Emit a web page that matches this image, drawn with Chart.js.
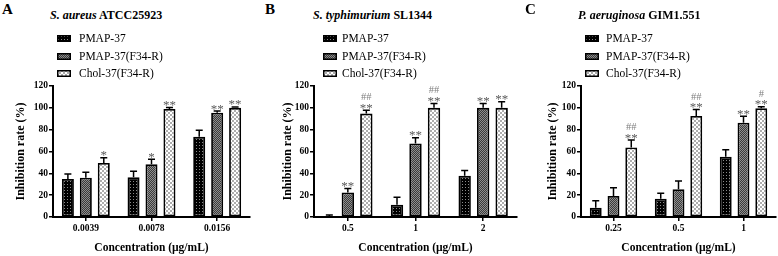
<!DOCTYPE html>
<html lang="en">
<head>
<meta charset="UTF-8">
<title>Inhibition rate</title>
<style>
    body {
        margin: 0;
        background: #fff;
        font-family: 'Liberation Serif', 'Times New Roman', serif;
    }
    .wrap {
        position: relative;
        width: 778px;
        height: 256px;
        overflow: hidden;
    }
    .panel {
        position: absolute;
        top: 0;
        width: 260px;
        height: 256px;
    }
    .panel canvas.chart {
        position: absolute;
        left: 0;
        top: 0;
    }
    .letter {
        position: absolute;
        top: 2px;
        font-size: 15px;
        font-weight: bold;
        line-height: 1;
    }
    .title {
        position: absolute;
        top: 9px;
        font-size: 12px;
        font-weight: bold;
        line-height: 1;
        white-space: nowrap;
    }
    .lg {
        position: absolute;
        font-size: 11.5px;
        line-height: 1;
        white-space: nowrap;
    }
    .sw {
        position: absolute;
    }
</style>
<script src="https://cdn.jsdelivr.net/npm/chart.js"></script>
</head>
<body>
<div class="wrap" id="wrap"></div>

<script>
    // series names
    const seriesNames = ['PMAP-37', 'PMAP-37(F34-R)', 'Chol-37(F34-R)'];
    const yTicks = [0, 20, 40, 60, 80, 100, 120];

    // A: S. aureus ATCC25923
    const catsA = ['0.0039', '0.0078', '0.0156'];
    const pmapA = [34.8, 36.3, 73.6];
    const f34A = [36, 48.4, 95.6];
    const cholA = [49.4, 99, 100];
    const pmapErrA = [4.6, 5.7, 5.9];
    const f34ErrA = [5, 4.6, 1.4];
    const cholErrA = [4.9, 1.3, 0.8];
    const pmapStarA = ['', '', ''];
    const f34StarA = ['', '*', '**'];
    const cholStarA = ['*', '**', '**'];
    const cholHashA = ['', '', ''];

    // B: S. typhimurium SL1344
    const catsB = ['0.5', '1', '2'];
    const pmapB = [0.4, 11.2, 37.9];
    const f34B = [22.4, 67.4, 100];
    const cholB = [94.7, 100, 100];
    const pmapErrB = [1.4, 6.8, 4.6];
    const f34ErrB = [3.6, 5.3, 4];
    const cholErrB = [3.1, 4, 5.6];
    const pmapStarB = ['', '', ''];
    const f34StarB = ['**', '**', '**'];
    const cholStarB = ['**', '**', '**'];
    const cholHashB = ['##', '##', ''];

    // C: P. aeruginosa GIM1.551
    const catsC = ['0.25', '0.5', '1'];
    const pmapC = [8.4, 16.8, 55.3];
    const f34C = [19.3, 25.5, 86.3];
    const cholC = [63.7, 92.5, 99.7];
    const pmapErrC = [6.6, 4.9, 6.2];
    const f34ErrC = [7.4, 7.5, 5.9];
    const cholErrC = [6.8, 5.9, 1.3];
    const pmapStarC = ['', '', ''];
    const f34StarC = ['', '', '**'];
    const cholStarC = ['**', '**', '**'];
    const cholHashC = ['##', '##', '#'];

    // patterns for the three bar fills
    function makePattern(kind) {
        const c = document.createElement('canvas');
        const g = c.getContext('2d');
        if (kind === 0) {
            c.width = 3; c.height = 3;
            g.fillStyle = '#000'; g.fillRect(0, 0, 3, 3);
            g.fillStyle = '#8a8a8a'; g.fillRect(1, 1, 1, 1);
        } else if (kind === 1) {
            c.width = 2; c.height = 2;
            g.fillStyle = '#3a3a3a'; g.fillRect(0, 0, 2, 2);
            g.fillStyle = '#8e8e8e'; g.fillRect(0, 0, 1, 1); g.fillRect(1, 1, 1, 1);
        } else {
            c.width = 4; c.height = 4;
            g.fillStyle = '#fff'; g.fillRect(0, 0, 4, 4);
            g.fillStyle = '#adadad'; g.fillRect(0, 0, 2, 2); g.fillRect(2, 2, 2, 2);
        }
        return g.createPattern(c, 'repeat');
    }
    const fills = [makePattern(0), makePattern(1), makePattern(2)];

    // error bars + significance marks
    const errPlugin = {
        id: 'errs',
        afterDatasetsDraw(chart) {
            const ctx = chart.ctx;
            const y = chart.scales.y;
            ctx.save();
            chart.data.datasets.forEach((ds, i) => {
                chart.getDatasetMeta(i).data.forEach((bar, j) => {
                    const base = y.getPixelForValue(ds.data[j]);
                    const top = y.getPixelForValue(ds.data[j] + ds.errs[j]);
                    ctx.strokeStyle = '#000';
                    ctx.lineWidth = 1.5;
                    ctx.beginPath();
                    ctx.moveTo(bar.x, base);
                    ctx.lineTo(bar.x, top);
                    ctx.moveTo(bar.x - 3.5, top);
                    ctx.lineTo(bar.x + 3.5, top);
                    ctx.stroke();
                    ctx.textAlign = 'center';
                    ctx.textBaseline = 'alphabetic';
                    if (ds.stars[j]) {
                        ctx.font = '13px "Liberation Serif"';
                        ctx.fillStyle = '#5a5a5a';
                        ctx.fillText(ds.stars[j], bar.x, top + 1.5);
                    }
                    if (ds.hashes && ds.hashes[j]) {
                        ctx.font = '10.5px "Liberation Serif"';
                        ctx.fillStyle = '#808080';
                        ctx.fillText(ds.hashes[j], bar.x, top - 10);
                    }
                });
            });
            ctx.restore();
        }
    };

    const panels = [
        { letter: 'A', left: 0, letterX: 2, titleX: 50, it: 'S. aureus', rest: 'ATCC25923',
          swX: 57, txtX: 79, padL: 14, yW: 39, padR: 10, cats: catsA,
          vals: [pmapA, f34A, cholA], errs: [pmapErrA, f34ErrA, cholErrA],
          stars: [pmapStarA, f34StarA, cholStarA], hashes: [null, null, cholHashA] },
        { letter: 'B', left: 260, letterX: 5, titleX: 53, it: 'S. typhimurium', rest: 'SL1344',
          swX: 63, txtX: 82, padL: 21, yW: 33, padR: 3, cats: catsB,
          vals: [pmapB, f34B, cholB], errs: [pmapErrB, f34ErrB, cholErrB],
          stars: [pmapStarB, f34StarB, cholStarB], hashes: [null, null, cholHashB] },
        { letter: 'C', left: 518, letterX: 7, titleX: 60, it: 'P. aeruginosa', rest: 'GIM1.551',
          swX: 67, txtX: 88, padL: 28, yW: 35, padR: 2, cats: catsC,
          vals: [pmapC, f34C, cholC], errs: [pmapErrC, f34ErrC, cholErrC],
          stars: [pmapStarC, f34StarC, cholStarC], hashes: [null, null, cholHashC] }
    ];

    const wrap = document.getElementById('wrap');
    const legendY = [38.5, 56, 73.3];

    panels.forEach(p => {
        const div = document.createElement('div');
        div.className = 'panel';
        div.style.left = p.left + 'px';
        div.innerHTML = `
            <div class="letter" style="left:${p.letterX}px">${p.letter}</div>
            <div class="title" style="left:${p.titleX}px"><i>${p.it}</i> ${p.rest}</div>
            <canvas class="chart" width="260" height="256"></canvas>`;
        wrap.appendChild(div);

        // legend
        seriesNames.forEach((name, i) => {
            const sw = document.createElement('canvas');
            sw.className = 'sw';
            sw.width = 14; sw.height = 7;
            sw.style.left = p.swX + 'px';
            sw.style.top = (legendY[i] - 3.5) + 'px';
            const g = sw.getContext('2d');
            g.fillStyle = fills[i];
            g.fillRect(0, 0, 14, 7);
            g.strokeStyle = '#000';
            g.lineWidth = 1.5;
            g.strokeRect(0.75, 0.75, 12.5, 5.5);
            div.appendChild(sw);
            const t = document.createElement('div');
            t.className = 'lg';
            t.style.left = p.txtX + 'px';
            t.style.top = (legendY[i] - 9.3 + 3.8) + 'px';
            t.textContent = name;
            div.appendChild(t);
        });

        const datasets = seriesNames.map((name, i) => ({
            label: name,
            data: p.vals[i],
            errs: p.errs[i],
            stars: p.stars[i],
            hashes: p.hashes[i],
            backgroundColor: fills[i],
            borderColor: '#000',
            borderWidth: 1.8,
            borderSkipped: false,
            categoryPercentage: 0.82,
            barPercentage: 0.67
        }));

        const chart = new Chart(div.querySelector('canvas.chart'), {
            type: 'bar',
            data: { labels: p.cats, datasets },
            options: {
                responsive: false,
                animation: false,
                layout: { padding: { left: p.padL, right: p.padR, top: 80, bottom: 0 } },
                plugins: { legend: { display: false }, tooltip: { enabled: false } },
                scales: {
                    x: {
                        grid: { display: true, drawOnChartArea: false, offset: false,
                                color: '#000', lineWidth: 1.5, tickLength: 4 },
                        border: { color: '#000', width: 2 },
                        ticks: { color: '#000', padding: 2,
                                 font: { family: 'Liberation Serif', size: 9.5, weight: 'bold' } },
                        title: { display: true, text: 'Concentration (µg/mL)', color: '#000',
                                 padding: { top: 0, bottom: 1 },
                                 font: { family: 'Liberation Serif', size: 11.5, weight: 'bold' } },
                        afterFit: s => { s.height = 39; }
                    },
                    y: {
                        min: 0, max: 120,
                        grid: { display: true, drawOnChartArea: false, color: '#000',
                                lineWidth: 1.5, tickLength: 4 },
                        border: { color: '#000', width: 2 },
                        ticks: { stepSize: 10, color: '#000', padding: 1,
                                 callback: v => yTicks.includes(v) ? v : '',
                                 font: { family: 'Liberation Serif', size: 9.5, weight: 'bold' } },
                        title: { display: true, text: 'Inhibition rate (%)', color: '#000',
                                 padding: { top: 0, bottom: 0 },
                                 font: { family: 'Liberation Serif', size: 12, weight: 'bold' } },
                        afterFit: s => { s.width = p.yW; }
                    }
                }
            },
            plugins: [errPlugin]
        });

        // line the plot area up with the reference frame
        const ca = chart.chartArea;
        chart.options.layout.padding.top += 86 - ca.top;
        chart.options.layout.padding.bottom += ca.bottom - 217;
        chart.update('none');
    });
</script>
</body>
</html>
